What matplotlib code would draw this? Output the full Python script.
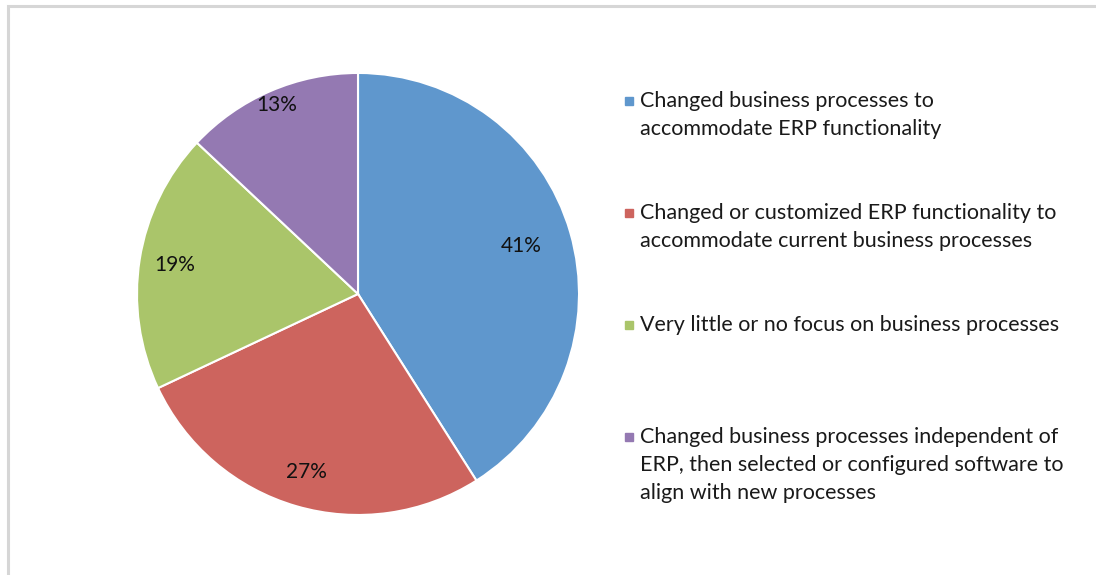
import matplotlib.pyplot as plt
import matplotlib.patches as mpatches
import numpy as np

# ---------- DATA ----------
labels = ['Changed business processes to\naccommodate ERP functionality',
          'Changed or customized ERP functionality to\naccommodate current business processes',
          'Very little or no focus on business processes',
          'Changed business processes independent of\nERP, then selected or configured software to\nalign with new processes']
shares = [41, 27, 19, 13]
colors = ['#5F97CD', '#CD645E', '#AAC56A', '#9479B2']

# per-slice label distance (fraction of radius), Excel "best fit" look
label_dist = [0.77, 0.84, 0.84, 0.93]

plt.rcParams['font.family'] = ['Lato', 'DejaVu Sans']

fig = plt.figure(figsize=(10.96, 5.75), dpi=100)

# light gray chart frame (top and left visible)
frame = mpatches.Rectangle((8 / 1096, -0.1), 1.2, 1 - 6 / 575 + 0.1,
                           transform=fig.transFigure, fill=False,
                           edgecolor='#D6D6D6', linewidth=2.2)
fig.patches.append(frame)

ax = fig.add_axes([0.125, 0.1044, 0.4033, 0.7687])
wedges, _ = ax.pie(shares, colors=colors, startangle=90, counterclock=False,
                   radius=1.0, wedgeprops=dict(edgecolor='white', linewidth=1.5))

# percent labels
theta = 90 - (np.cumsum(shares) - np.array(shares) / 2) / sum(shares) * 360
for t, s, d in zip(theta, shares, label_dist):
    ax.text(d * np.cos(np.radians(t)), d * np.sin(np.radians(t)), f'{s}%',
            ha='center', va='center', fontsize=15, color='#111111')

ax.set_xlim(-1.0, 1.0)
ax.set_ylim(-1.0, 1.0)
ax.set_aspect('equal')
ax.axis('off')

# ---------- LEGEND ----------
legend_y = [101, 213, 325, 437]
for lab, col, y in zip(labels, colors, legend_y):
    fig.patches.append(mpatches.Rectangle((625 / 1096, 1 - (y + 4) / 575), 8 / 1096, 8 / 575,
                                          transform=fig.transFigure, color=col))
    fig.text(640 / 1096, 1 - (y - 10) / 575, lab, ha='left', va='top',
             fontsize=15.5, color='#1a1a1a', linespacing=1.5)

fig.savefig('out.png', dpi=100)
